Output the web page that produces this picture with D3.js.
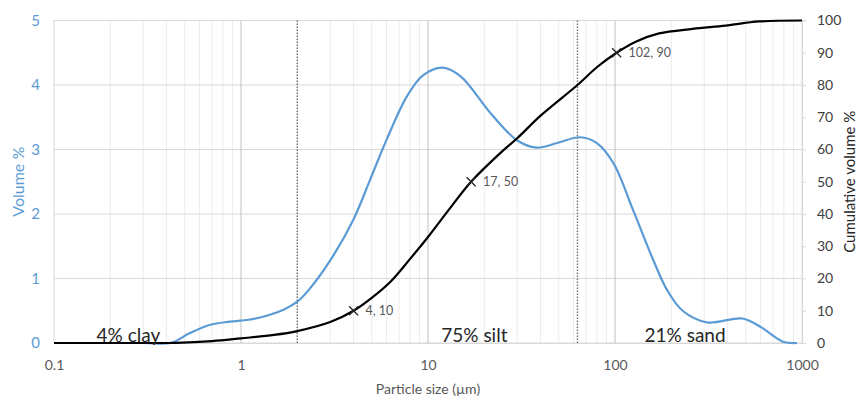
<!DOCTYPE html>
<head>
  <meta charset="utf8">
  <title>Particle size distribution</title>
  <script src="https://d3js.org/d3.v7.min.js"></script>
  <style>
    body { margin: 0; background: #fff; }
    text { font-family: Lato, "Liberation Sans", sans-serif; }
  </style>
</head>
<body>
<script>
  // volume distribution (left axis)
  var volSize = [0.1, 0.3, 0.42, 0.53, 0.68, 0.87, 1.1, 1.4, 1.7, 2, 2.3, 3, 4, 4.9, 6, 7.7, 9.4, 12, 15, 21.5,
                 30, 38, 49, 65, 80, 98, 125, 160, 190, 230, 310, 480, 600, 790, 940];
  var volPct  = [0, 0, 0, 0.15, 0.28, 0.33, 0.36, 0.43, 0.52, 0.64, 0.82, 1.28, 1.92, 2.53, 3.15, 3.82, 4.15, 4.27, 4.13, 3.57,
                 3.14, 3.03, 3.1, 3.19, 3.1, 2.79, 2.06, 1.29, 0.82, 0.5, 0.32, 0.38, 0.25, 0.02, 0];

  // cumulative (right axis)
  var cumSize = [0.1, 0.3, 0.45, 0.7, 1, 1.5, 2, 3, 4, 5, 6.3, 8, 10.2, 13, 17, 25, 30, 40, 63, 80, 102, 130, 172, 260, 390, 590, 1000];
  var cumPct  = [0, 0, 0.05, 0.6, 1.45, 2.5, 3.7, 6.5, 10, 14, 19, 26, 33.5, 41.5, 50, 59.5, 63.5, 70.5, 80, 85.5, 90, 93.5, 96, 97.4, 98.4, 99.7, 100];

  var markSize = [4, 17, 102];
  var markPct  = [10, 50, 90];

  var bounds = [2, 63];
  var classNames = ["4% clay", "75% silt", "21% sand"];
  var classPos = [0.25, 17.7, 237];

  var xTicks = [0.1, 1, 10, 100, 1000];
  var volTicks = [0, 1, 2, 3, 4, 5];
  var cumTicks = d3.range(0, 101, 10);

  var width = 864, height = 398,
      plotLeft = 54, plotRight = 802, plotTop = 20.5, plotBottom = 343;

  var svg = d3.select("body").append("svg")
      .attr("width", width)
      .attr("height", height);

  var x = d3.scaleLog().domain([0.1, 1000]).range([plotLeft, plotRight]),
      yv = d3.scaleLinear().domain([0, 5]).range([plotBottom, plotTop]),
      yc = d3.scaleLinear().domain([0, 100]).range([plotBottom, plotTop]);

  // minor vertical grid
  var minor = [];
  [0.1, 1, 10, 100].forEach(function(d) {
    for (var k = 2; k < 10; k++) minor.push(d * k);
  });
  svg.append("g").selectAll("line").data(minor).enter().append("line")
    .attr("x1", function(d) { return x(d); }).attr("x2", function(d) { return x(d); })
    .attr("y1", plotTop).attr("y2", plotBottom)
    .attr("stroke", "#ececec").attr("stroke-width", 1);

  // horizontal grid
  svg.append("g").selectAll("line").data(volTicks).enter().append("line")
    .attr("x1", plotLeft).attr("x2", plotRight)
    .attr("y1", function(d) { return yv(d); }).attr("y2", function(d) { return yv(d); })
    .attr("stroke", "#d9d9d9").attr("stroke-width", 1);

  // major vertical grid
  svg.append("g").selectAll("line").data(xTicks).enter().append("line")
    .attr("x1", function(d) { return x(d); }).attr("x2", function(d) { return x(d); })
    .attr("y1", plotTop).attr("y2", plotBottom)
    .attr("stroke", function(d) { return (d == 0.1 || d == 1000) ? "#d9d9d9" : "#c0c0c0"; })
    .attr("stroke-width", 1);

  // class boundaries
  svg.append("g").selectAll("line").data(bounds).enter().append("line")
    .attr("x1", function(d) { return x(d); }).attr("x2", function(d) { return x(d); })
    .attr("y1", plotTop).attr("y2", plotBottom)
    .attr("stroke", "#707070").attr("stroke-width", 1.4)
    .attr("stroke-dasharray", "1.4,1.6");

  // axes
  var xAxis = svg.append("g")
    .attr("transform", "translate(0," + plotBottom + ")")
    .call(d3.axisBottom(x).tickValues(xTicks).tickSize(0).tickPadding(17)
      .tickFormat(function(d) { return d; }));
  xAxis.select(".domain").attr("stroke", "#d9d9d9");
  xAxis.selectAll("text").attr("fill", "#595959").attr("font-size", 14);

  var lAxis = svg.append("g")
    .attr("transform", "translate(" + plotLeft + ",0)")
    .call(d3.axisLeft(yv).tickValues(volTicks).tickSize(0).tickPadding(14)
      .tickFormat(d3.format("d")));
  lAxis.select(".domain").remove();
  lAxis.selectAll("text").attr("fill", "#5b9bd5").attr("font-size", 15);

  var rAxis = svg.append("g")
    .attr("transform", "translate(" + plotRight + ",0)")
    .call(d3.axisRight(yc).tickValues(cumTicks).tickSize(4).tickPadding(11));
  rAxis.select(".domain").attr("stroke", "#d9d9d9");
  rAxis.selectAll("line").attr("stroke", "#d9d9d9");
  rAxis.selectAll("text").attr("fill", "#404040").attr("font-size", 14);

  // axis titles
  svg.append("text")
    .attr("x", (plotLeft + plotRight) / 2).attr("y", 394)
    .attr("text-anchor", "middle").attr("font-size", 14).attr("fill", "#595959")
    .text("Particle size (µm)");

  svg.append("text")
    .attr("transform", "translate(18," + (plotTop + plotBottom) / 2 + ") rotate(-90)")
    .attr("text-anchor", "middle").attr("dy", "0.35em").attr("font-size", 16).attr("fill", "#5b9bd5")
    .text("Volume %");

  svg.append("text")
    .attr("transform", "translate(850," + (plotTop + plotBottom) / 2 + ") rotate(-90)")
    .attr("text-anchor", "middle").attr("dy", "0.35em").attr("font-size", 15).attr("fill", "#262626")
    .text("Cumulative volume %");

  // curves (smoothed like the spreadsheet's line)
  var volLine = d3.line()
    .x(function(d) { return x(d[0]); })
    .y(function(d) { return yv(d[1]); })
    .curve(d3.curveCatmullRom.alpha(0.5));

  var cumLine = d3.line()
    .x(function(d) { return x(d[0]); })
    .y(function(d) { return yc(d[1]); })
    .curve(d3.curveCatmullRom.alpha(0.5));

  svg.append("path")
    .datum(d3.zip(volSize, volPct))
    .attr("fill", "none").attr("stroke", "#5b9bd5").attr("stroke-width", 2.2)
    .attr("stroke-linejoin", "round")
    .attr("d", volLine);

  svg.append("path")
    .datum(d3.zip(cumSize, cumPct))
    .attr("fill", "none").attr("stroke", "#000").attr("stroke-width", 2.2)
    .attr("stroke-linejoin", "round")
    .attr("d", cumLine);

  // D10 / D50 / D90 markers
  var marks = svg.append("g").selectAll("g").data(d3.zip(markSize, markPct)).enter().append("g")
    .attr("transform", function(d) { return "translate(" + x(d[0]) + "," + yc(d[1]) + ")"; });
  marks.append("path")
    .attr("d", "M-4.5,-4.5L4.5,4.5M-4.5,4.5L4.5,-4.5")
    .attr("stroke", "#262626").attr("stroke-width", 1.3);
  marks.append("text")
    .attr("x", 12).attr("y", 4)
    .attr("font-size", 12.5).attr("fill", "#595959")
    .text(function(d) { return d[0] + ", " + d[1]; });

  // class labels
  svg.append("g").selectAll("text").data(d3.zip(classNames, classPos)).enter().append("text")
    .attr("x", function(d) { return x(d[1]); })
    .attr("y", 342)
    .attr("text-anchor", "middle").attr("font-size", 19).attr("fill", "#262626")
    .text(function(d) { return d[0]; });
</script>
</body>
